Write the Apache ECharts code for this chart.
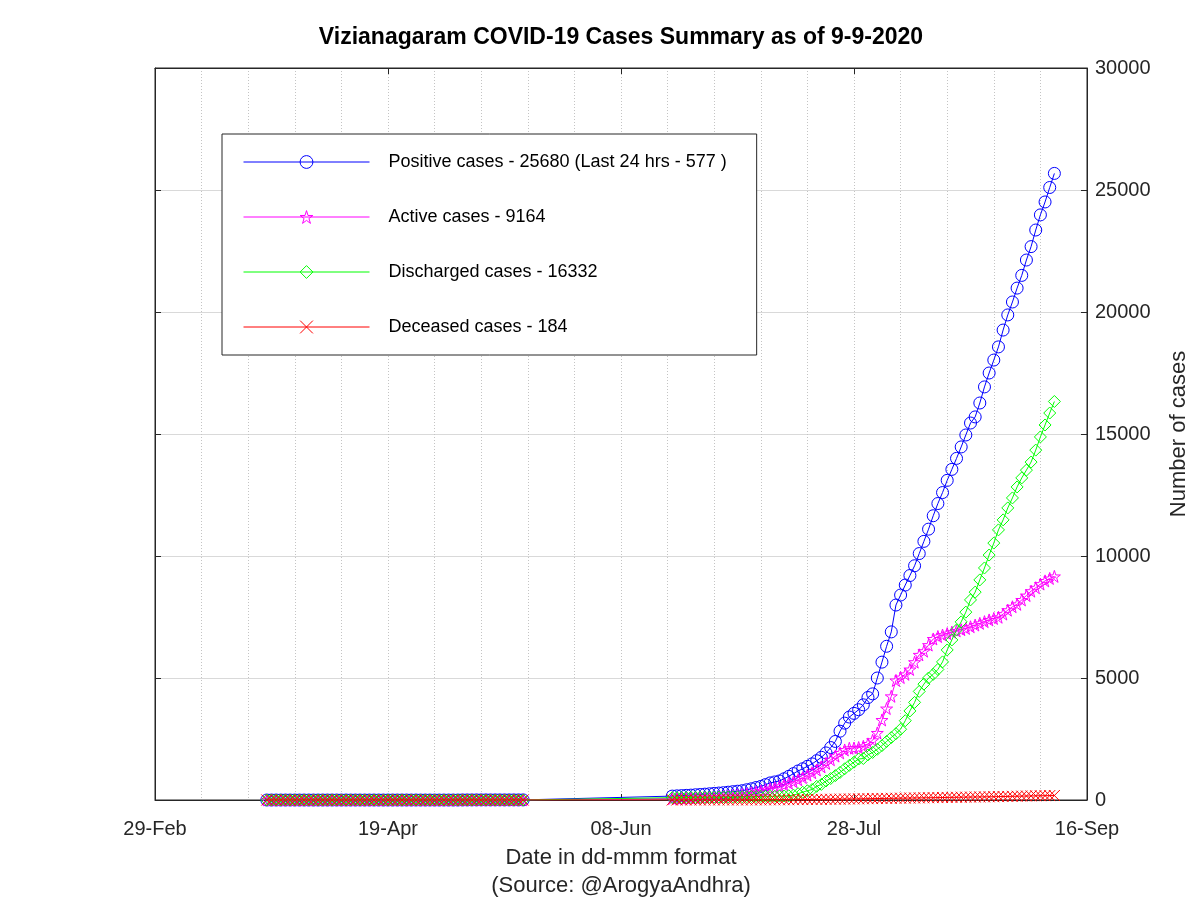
<!DOCTYPE html>
<html>
<head>
<meta charset="utf-8">
<script src="https://cdn.jsdelivr.net/npm/echarts@6/dist/echarts.min.js"></script>
<style>html,body{margin:0;padding:0;background:#fff}#c{width:1200px;height:900px}</style>
</head>
<body>
<div id="c"></div>
<script>
// ---------------- DATA ----------------
const chartTitle = 'Vizianagaram COVID-19 Cases Summary as of 9-9-2020';
const axisStartDate = '2020-02-29';
const xTickLabels = ['29-Feb', '19-Apr', '08-Jun', '28-Jul', '16-Sep'];
const xAxisTitle = 'Date in dd-mmm format\n(Source: @ArogyaAndhra)';
const yAxisTitle = 'Number of cases';
const seriesNames = [
  'Positive cases - 25680 (Last 24 hrs - 577 )',
  'Active cases - 9164',
  'Discharged cases - 16332',
  'Deceased cases - 184'
];

// first block of daily reports (24-Mar .. 18-May)
const seg1StartDate = '2020-03-24';
const positiveSeg1 = [0,0,0,0,0,0,0,0,0,0, 0,0,0,0,0,0,0,0,0,0, 0,0,0,0,0,0,0,0,0,0, 0,0,0,0,0,0,0,0,0,0, 0,0,3,3,3,4,4,4,4,4, 4,4,4,4,4,4];
const activeSeg1   = [0,0,0,0,0,0,0,0,0,0, 0,0,0,0,0,0,0,0,0,0, 0,0,0,0,0,0,0,0,0,0, 0,0,0,0,0,0,0,0,0,0, 0,0,3,3,3,4,4,4,4,4, 4,4,4,4,4,4];
const dischargedSeg1 = [0,0,0,0,0,0,0,0,0,0, 0,0,0,0,0,0,0,0,0,0, 0,0,0,0,0,0,0,0,0,0, 0,0,0,0,0,0,0,0,0,0, 0,0,0,0,0,0,0,0,0,0, 0,0,0,0,0,0];
const deceasedSeg1 = [0,0,0,0,0,0,0,0,0,0, 0,0,0,0,0,0,0,0,0,0, 0,0,0,0,0,0,0,0,0,0, 0,0,0,0,0,0,0,0,0,0, 0,0,0,0,0,0,0,0,0,0, 0,0,0,0,0,0];

// second block of daily reports (19-Jun .. 09-Sep)
const seg2StartDate = '2020-06-19';
const positiveSeg2 = [
  160,170,180,190,200,215,225,240,255,270,
  285,300,320,340,360,380,420,460,510,555,
  630,700,740,780,870,970,1080,1190,1280,1380,
  1480,1610,1750,1930,2150,2400,2820,3150,3400,3550,
  3700,3900,4200,4350,5000,5650,6300,6890,7990,8400,
  8810,9200,9600,10100,10600,11100,11650,12150,12600,13100,
  13550,14000,14470,14960,15450,15700,16270,16930,17500,18030,
  18570,19260,19880,20410,20980,21500,22130,22680,23360,23980,
  24510,25103,25680
];
const activeSeg2 = [
  60,65,70,75,80,90,100,110,120,130,
  140,150,165,180,200,220,250,290,330,370,
  420,460,500,560,620,690,750,830,920,1020,
  1120,1230,1360,1500,1650,1800,1930,2050,2120,2130,
  2150,2200,2300,2450,2750,3280,3750,4250,4900,5020,
  5150,5350,5650,5950,6100,6350,6600,6700,6760,6820,
  6880,6930,6980,7030,7100,7170,7240,7310,7380,7440,
  7490,7620,7780,7920,8020,8200,8380,8560,8700,8850,
  8980,9080,9164
];
const dischargedSeg2 = [
  95,97,100,102,105,107,110,112,115,118,
  120,122,125,128,130,133,136,140,143,146,
  150,153,156,160,165,175,200,260,320,380,
  430,560,640,780,880,1000,1130,1280,1420,1550,
  1680,1700,1850,1950,2080,2230,2400,2560,2720,2900,
  3250,3650,4000,4450,4750,5000,5150,5350,5660,6150,
  6560,6970,7300,7700,8200,8520,9020,9510,10040,10530,
  11070,11480,11970,12380,12830,13200,13520,13850,14340,14880,
  15370,15860,16332
];
const deceasedSeg2 = [
  2,2,2,2,2,2,2,3,3,3,
  3,3,4,4,4,4,5,5,6,6,
  7,8,9,10,11,12,14,16,18,20,
  22,24,26,28,30,33,36,39,42,45,
  48,51,54,57,60,63,66,69,72,75,
  78,81,84,87,90,93,96,99,102,105,
  108,111,114,117,120,123,126,129,132,135,
  139,143,147,151,155,159,163,167,171,174,
  177,180,184
];

const seriesColors = ['#0000ff', '#ff00ff', '#00ff00', '#ff0000'];

// ---------------- BUILD ----------------
function dayOffset(d) {
  return Math.round((Date.parse(d + 'T00:00:00Z') - Date.parse(axisStartDate + 'T00:00:00Z')) / 86400000);
}
function toPairs(startDate, vals) {
  const s = dayOffset(startDate);
  return vals.map((v, i) => [s + i, v]);
}
const seriesData = [
  toPairs(seg1StartDate, positiveSeg1).concat(toPairs(seg2StartDate, positiveSeg2)),
  toPairs(seg1StartDate, activeSeg1).concat(toPairs(seg2StartDate, activeSeg2)),
  toPairs(seg1StartDate, dischargedSeg1).concat(toPairs(seg2StartDate, dischargedSeg2)),
  toPairs(seg1StartDate, deceasedSeg1).concat(toPairs(seg2StartDate, deceasedSeg2))
];

const starPath = 'path://M10,0L12.245,6.91L19.511,6.91L13.633,11.18L15.878,18.09L10,13.82L4.122,18.09L6.367,11.18L0.489,6.91L7.755,6.91Z';
const crossPath = 'path://M0,0L10,10M0,10L10,0';
const symbols = ['circle', starPath, 'diamond', crossPath];
const symbolSizes = [12, 12, 12, 11];

const FONT = 'Liberation Sans, Arial, Helvetica, sans-serif';
const AX = '#262626';
const xMax = dayOffset('2020-09-16');

const chart = echarts.init(document.getElementById('c'), null, {renderer: 'canvas'});
chart.setOption({
  animation: false,
  backgroundColor: '#fff',
  title: {
    text: chartTitle, left: 616, textAlign: 'center', top: 21,
    textStyle: {fontFamily: FONT, fontSize: 23, fontWeight: 'bold', color: '#000'}
  },
  legend: {
    orient: 'vertical', left: 222, top: 134,
    padding: [19, 30, 19, 21],
    itemGap: 37, itemWidth: 126, itemHeight: 16,
    backgroundColor: '#fff', borderColor: AX, borderWidth: 1,
    lineStyle: {width: 1},
    itemStyle: {color: 'none', borderWidth: 1},
    textStyle: {fontFamily: FONT, fontSize: 18, color: '#000', padding: [0, 0, 0, 14]},
    data: seriesNames
  },
  grid: {left: 155, right: 113, top: 68, bottom: 100, show: true, borderColor: AX, borderWidth: 1,
    backgroundColor: 'transparent', containLabel: false, outerBoundsMode: 'none'},
  xAxis: [{
    type: 'value', position: 'bottom', min: 0, max: xMax, interval: 50,
    axisLine: {show: true, onZero: false, lineStyle: {color: AX}},
    axisTick: {show: true, inside: true, length: 6, lineStyle: {color: AX}},
    axisLabel: {fontFamily: FONT, fontSize: 20, color: AX, margin: 19,
      formatter: v => xTickLabels[Math.round(v / 50)]},
    splitLine: {show: true, lineStyle: {color: '#c4c4c4', type: [1, 2], width: 1}},
    minorTick: {show: false, splitNumber: 5},
    minorSplitLine: {show: true, lineStyle: {color: '#c4c4c4', type: [1, 2], width: 1}},
    name: xAxisTitle, nameLocation: 'middle', nameGap: 44,
    nameTextStyle: {fontFamily: FONT, fontSize: 22, color: AX, lineHeight: 28}
  }, {
    type: 'value', position: 'top', min: 0, max: xMax, interval: 50,
    axisLine: {show: true, onZero: false, lineStyle: {color: AX}},
    axisTick: {show: true, inside: true, length: 6, lineStyle: {color: AX}},
    axisLabel: {show: false}, splitLine: {show: false}
  }],
  yAxis: [{
    type: 'value', position: 'right', min: 0, max: 30000, interval: 5000,
    axisLine: {show: true, onZero: false, lineStyle: {color: AX}},
    axisTick: {show: true, inside: true, length: 6, lineStyle: {color: AX}},
    axisLabel: {fontFamily: FONT, fontSize: 20, color: AX, margin: 8, formatter: v => String(v)},
    splitLine: {show: true, lineStyle: {color: '#d9d9d9', width: 1}},
    name: yAxisTitle, nameLocation: 'middle', nameRotate: 90, nameGap: 81,
    nameTextStyle: {fontFamily: FONT, fontSize: 22, color: AX}
  }, {
    type: 'value', position: 'left', min: 0, max: 30000, interval: 5000,
    axisLine: {show: true, onZero: false, lineStyle: {color: AX}},
    axisTick: {show: true, inside: true, length: 6, lineStyle: {color: AX}},
    axisLabel: {show: false}, splitLine: {show: false}
  }],
  series: seriesNames.map((name, i) => ({
    name: name, type: 'line', xAxisIndex: 0, yAxisIndex: 0,
    data: seriesData[i],
    symbol: symbols[i], symbolSize: symbolSizes[i], showSymbol: true, showAllSymbol: true,
    lineStyle: {color: seriesColors[i], width: 1},
    itemStyle: {color: 'none', borderColor: seriesColors[i], borderWidth: 1},
    emphasis: {disabled: true},
    z: 2 + i
  }))
});
</script>
</body>
</html>
